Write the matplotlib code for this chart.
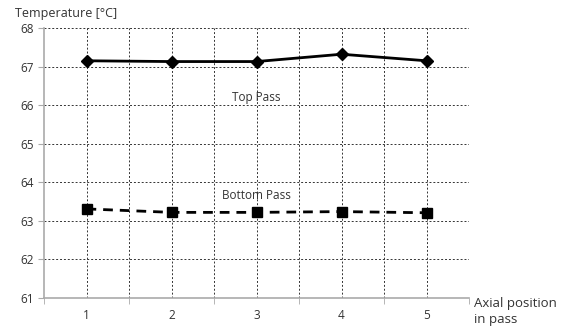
import numpy as np
import matplotlib.pyplot as plt

positions = [1, 2, 3, 4, 5]
top_pass = [67.15, 67.13, 67.13, 67.32, 67.15]
bottom_pass = [63.31, 63.22, 63.22, 63.24, 63.21]

plt.rcParams['font.family'] = ['Open Sans', 'DejaVu Sans']

fig = plt.figure(figsize=(5.62, 3.27), dpi=100)
ax = fig.add_axes([44/562, 1-298/327, 425/562, 270/327])

ax.plot(positions, top_pass, color='black', lw=2, marker='D', ms=6)
ax.plot(positions, bottom_pass, color='black', lw=2, ls=(0, (3.5, 2.5)), marker='s', ms=7)

ax.set_xlim(0.5, 5.5)
ax.set_ylim(61, 68)

# grid: dotted lines every half category and every degree
for x in np.arange(1, 5.51, 0.5):
    ax.axvline(x, color='#333333', lw=0.7, ls=(0, (2, 2)), zorder=0)
for y in range(62, 69):
    ax.axhline(y, color='#333333', lw=0.7, ls=(0, (2, 2)), zorder=0)

for s in ['top', 'right']:
    ax.spines[s].set_visible(False)
ax.spines['left'].set_color('#aaaaaa')
ax.spines['bottom'].set_color('#aaaaaa')
ax.spines['left'].set_linewidth(1.2)
ax.spines['bottom'].set_linewidth(1.2)

ax.set_yticks(range(61, 69))
ax.set_xticks(positions)
ax.set_xticks(np.arange(0.5, 5.6, 1.0), minor=True)
ax.tick_params(axis='x', which='major', length=0, pad=8, labelsize=8.5, colors='#333333')
ax.tick_params(axis='x', which='minor', length=4, color='#aaaaaa')
ax.tick_params(axis='y', length=4, color='#aaaaaa', labelsize=8.5, labelcolor='#333333')

ax.text(3, 66.2, 'Top Pass', ha='center', va='center', fontsize=8.5, color='#333333')
ax.text(3, 63.65, 'Bottom Pass', ha='center', va='center', fontsize=8.5, color='#333333')

fig.text(15/562, 1-13/327, 'Temperature [°C]', ha='left', va='center', fontsize=9, color='#333333')
fig.text(474/562, 1-311/327, 'Axial position\nin pass', ha='left', va='center', fontsize=9.5,
         color='#333333', linespacing=1.3)

fig.savefig('out.png', dpi=100)
